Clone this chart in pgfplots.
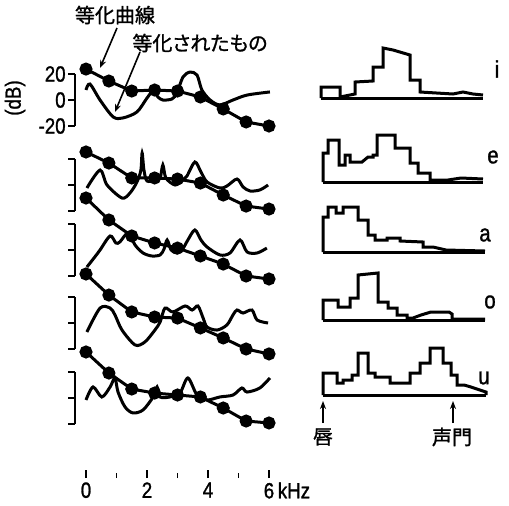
\documentclass[border=0pt]{standalone}
\usepackage{pgfplots}
\pgfplotsset{compat=1.18}
\usepackage{fontspec}
\setmainfont{Liberation Sans}[FakeStretch=0.85, FakeBold=1.2]
\newfontfamily\jp{Noto Sans CJK JP}[FakeBold=1.2]
\newfontfamily\jpp{Noto Sans CJK JP}[RawFeature=+palt, FakeBold=1.2]
\usetikzlibrary{arrows.meta}
\pgfplotsset{
  eq/.style={black, line width=1.5pt, mark=*, mark size=2.5pt, mark options={solid}},
  resp/.style={black, line width=1.5pt, smooth, tension=0.5, no marks},
  leftrow/.style={anchor=origin, x=15.25pt, y=0.65pt, xmin=-0.36, xmax=6.3, ymin=-20, ymax=20, clip=false,
     axis x line=none, axis y line=left, axis line style={-, line width=1.1pt},
     ytick={-20,0,20}, yticklabels={}, xtick=\empty, ytick align=outside, major tick length=3.5pt,
     every tick/.style={black, line width=1.1pt},
     yticklabel style={font=\fontsize{11}{13}\selectfont, inner sep=1pt}},
  tract/.style={anchor=origin, x=0.5pt, y=0.5pt, xmin=0, xmax=166, ymin=0, ymax=50, clip=false, hide axis},
  area/.style={black, line width=1.5pt, no marks, sharp plot},
}
\begin{document}
\begin{tikzpicture}
\useasboundingbox (0,0) rectangle (254.5pt,-252.5pt);
% ---------- left: row i ----------
\begin{axis}[leftrow, at={(43pt,-50pt)}, yticklabels={-20,0,20}]
\addplot[eq] coordinates {(0,23.8)(0.75,14.6)(1.5,6.9)(2.25,7.7)(3,6.9)(3.75,2.3)(4.5,-6.9)(5.25,-16.9)(6,-20)};
\addplot[resp] coordinates {(0,7.7)(0.13,12.3)(0.46,0)(0.89,-13)(1.21,-13.8)(1.67,-9.2)(2.0,1.5)(2.2,6.9)(2.36,2.3)(2.52,0)(2.82,0.8)(2.98,5.4)(3.18,17.7)(3.41,21.5)(3.64,19.2)(3.8,7.7)(4.07,0)(4.39,-3.8)(4.82,0)(5.28,3.8)(6.03,6.2)};
\end{axis}
% ---------- row e ----------
\begin{axis}[leftrow, at={(43pt,-92.5pt)}]
\addplot[eq] coordinates {(0,25.4)(0.75,16.9)(1.5,5.4)(2.25,5.4)(3,4.6)(3.75,1.5)(4.5,-7.7)(5.25,-16.2)(6,-18.5)};
\addplot[resp] coordinates {(0.03,-2.3)(0.46,11.5)(0.69,0)(1.18,-10)(1.44,-6.2)(1.67,2.3)(1.8,11.5)(1.84,24.6)(1.9,11.5)(2.0,3.1)(2.26,3.8)(2.43,5.4)(2.52,15.4)(2.62,5.4)(2.92,0)(3.18,3.8)(3.31,6.9)(3.57,17.7)(3.77,10)(3.97,2.3)(4.39,-2.3)(4.62,-0.8)(4.95,4.6)(5.15,-1.5)(5.38,-4.6)(5.7,-3.8)(5.97,0)};
\end{axis}
% ---------- row a ----------
\begin{axis}[leftrow, at={(43pt,-125pt)}]
\addplot[eq] coordinates {(0,40)(0.75,23.1)(1.5,10.8)(2.25,5.4)(3,1.5)(3.75,-4.6)(4.5,-10.8)(5.25,-20)(6,-22.3)};
\addplot[resp] coordinates {(0.03,-13.1)(0.3,-5)(0.46,0)(0.79,10.8)(0.98,5.4)(1.11,6.2)(1.38,13.1)(1.61,3.8)(1.87,-2.3)(2.16,-4.6)(2.43,-3.8)(2.56,0.8)(2.66,7.7)(2.79,0)(2.98,-2.3)(3.15,0)(3.34,7.7)(3.57,15.4)(3.77,7.7)(3.97,2.3)(4.39,-3.8)(4.72,-2.3)(5.05,7.7)(5.28,-1.5)(5.61,-2.3)(5.93,1.5)};
\end{axis}
% ---------- row o ----------
\begin{axis}[leftrow, at={(43pt,-161.5pt)}]
\addplot[eq] coordinates {(0,37.7)(0.75,21.5)(1.5,8.5)(2.25,4.6)(3,3.8)(3.75,-3.8)(4.5,-11.5)(5.25,-20)(6,-23.8)};
\addplot[resp] coordinates {(0.03,-6.9)(0.46,11.5)(0.79,11.5)(0.95,6.2)(1.18,-5.4)(1.61,-16.9)(1.93,-14.6)(2.26,-5.4)(2.43,0.8)(2.59,11.5)(2.85,8.5)(3.25,13.1)(3.48,10)(3.67,13.1)(3.84,3.8)(3.97,-3.1)(4.3,-5.4)(4.62,-1.5)(4.82,6.2)(4.95,10)(5.15,7.7)(5.44,10)(5.61,2.3)(5.97,0)};
\end{axis}
% ---------- row u ----------
\begin{axis}[leftrow, at={(43pt,-199pt)}]
\addplot[eq] coordinates {(0,35.4)(0.75,19.2)(1.5,6.9)(2.25,3.8)(3,2.3)(3.75,0.8)(4.5,-7.7)(5.25,-17.7)(6,-19.2)};
\addplot[resp] coordinates {(0,-1.5)(0.23,8.5)(0.52,0.8)(0.79,8.5)(0.95,15.4)(1.05,4.6)(1.28,-6.9)(1.54,-11.5)(1.87,-9.2)(2.2,0.8)(2.33,8.5)(2.43,0.8)(2.75,0.8)(3.08,3.8)(3.34,15.4)(3.64,2.3)(3.97,-1.5)(4.39,0.8)(4.82,2.3)(5.11,7.7)(5.28,4.6)(5.7,7.7)(6.03,15.4)};
\end{axis}
% ---------- frequency axis ----------
\begin{axis}[anchor=origin, at={(43pt,-239pt)}, x=15.25pt, y=1pt, xmin=-0.2, xmax=6.2, ymin=0, ymax=1,
  axis x line=bottom, axis y line=none, axis line style={draw=none},
  xtick={0,2,4,6}, xticklabels={0,2,4,6\rlap{\,kHz}}, minor xtick={1,3,5},
  xtick align=inside, major tick length=4pt, minor tick length=2.5pt,
  every tick/.style={black, line width=0.9pt},
  xticklabel style={font=\fontsize{11}{13}\selectfont, inner sep=2pt}]
\addplot[draw=none] coordinates {(0,0)(6,0)};
\end{axis}
% ---------- right: vocal tract area functions ----------
\begin{axis}[tract, at={(160.5pt,-49pt)}]
\addplot[area] coordinates {(0,0)(0,11)(19,11)(19,1)(29,3)(34,4)(34,16)(52,17)(52,31)(62,31)(62,50)(72,48)(89,43)(89,18)(99,18)(99,6)(132,4)(142,6)(152,4)(162,3)};
\addplot[area] coordinates {(0,0)(162,0)};
\end{axis}
\begin{axis}[tract, at={(160.5pt,-91pt)}]
\addplot[area] coordinates {(2,0)(2,29)(7,29)(7,42)(18,42)(18,17)(24,17)(24,27)(29,27)(29,20)(41,20)(47,25)(52,25)(52,27)(56,27)(56,47)(74,47)(74,34)(89,34)(89,19)(97,19)(97,9)(109,9)(109,2)(127,2)(140,4)(162,3)};
\addplot[area] coordinates {(2,0)(162,0)};
\end{axis}
\begin{axis}[tract, at={(160.5pt,-126pt)}]
\addplot[area] coordinates {(2,0)(2,35)(7,35)(7,45)(15,45)(15,39)(22,39)(22,45)(37,45)(37,32)(47,32)(47,17)(54,17)(54,12)(66,12)(66,14)(79,14)(79,11)(102,10)(102,5)(112,5)(125,2)(164,1)};
\addplot[area] coordinates {(2,0)(164,0)};
\end{axis}
\begin{axis}[tract, at={(160.5pt,-160pt)}]
\addplot[area] coordinates {(2,0)(2,20)(17,20)(17,13)(29,13)(29,22)(37,22)(37,45)(57,47)(57,18)(67,18)(67,12)(76,12)(76,5)(86,5)(86,2)(92,2)(100,5)(110,8)(128,8)(131,6)(131,1)(164,1)};
\addplot[area] coordinates {(2,0)(164,0)};
\end{axis}
\begin{axis}[tract, at={(160.5pt,-197.5pt)}]
\addplot[area] coordinates {(2,0)(2,22)(16,22)(16,12)(22,12)(22,15)(31,15)(31,20)(37,20)(37,42)(47,42)(47,22)(54,22)(54,18)(69,18)(69,12)(89,12)(89,22)(99,22)(99,32)(109,32)(109,47)(122,47)(122,32)(130,32)(130,20)(136,20)(136,10)(143,10)(150,8)(162,4)(165,3)(165,0)};
\addplot[area] coordinates {(2,0)(165,0)};
\draw[-{Stealth[length=4pt,width=3pt]}, line width=0.8pt] (axis cs:2,-28) -- (axis cs:2,-6);
\draw[-{Stealth[length=4pt,width=3pt]}, line width=0.8pt] (axis cs:132,-28) -- (axis cs:132,-6);
\node[font=\jp\fontsize{10}{12}\selectfont] at (axis cs:2,-42) {唇};
\node[font=\jp\fontsize{10}{12}\selectfont] at (axis cs:131,-42) {声門};
\end{axis}
% ---------- labels ----------
\node[font=\jp\fontsize{10}{12}\selectfont] at (57.5pt,-7.5pt) {等化曲線};
\node[font=\jpp\fontsize{10}{12}\selectfont] at (100pt,-21.5pt) {等化されたもの};
\draw[-{Stealth[length=4pt,width=3pt]}, line width=0.8pt] (58.5pt,-14pt) -- (50pt,-34pt);
\draw[-{Stealth[length=4pt,width=3pt]}, line width=0.8pt] (70pt,-26pt) -- (57.5pt,-56pt);
\node[rotate=90, font=\fontsize{11}{13}\selectfont] at (7.5pt,-49pt) {(dB)};
\begin{scope}[every node/.style={font=\fontsize{12}{14}\selectfont}]
\node at (248.5pt,-34.5pt) {i};
\node at (246.5pt,-78.5pt) {e};
\node at (242.5pt,-117.5pt) {a};
\node at (245pt,-151pt) {o};
\node at (242pt,-189pt) {u};
\end{scope}
\end{tikzpicture}
\end{document}
